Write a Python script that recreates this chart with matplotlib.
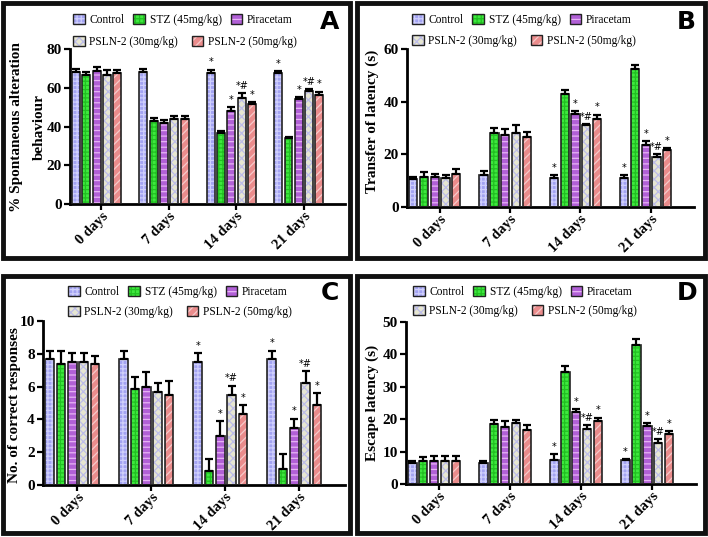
import numpy as np
import matplotlib.pyplot as plt
from matplotlib.patches import Rectangle, Patch
from matplotlib import rcParams
rcParams['font.family'] = ['Liberation Serif', 'DejaVu Serif']
rcParams['hatch.linewidth'] = 0.9

W, H = 708, 537

days = ['0 days', '7 days', '14 days', '21 days']
treatments = ['Control', 'STZ (45mg/kg)', 'Piracetam', 'PSLN-2 (30mg/kg)', 'PSLN-2 (50mg/kg)']

# rows = treatments, columns = days
alt_mean = [[68, 68, 67.5, 67.5],
            [66.5, 43, 36.5, 34],
            [68.5, 42, 48, 54],
            [66.5, 44, 54.5, 58.5],
            [67.5, 44, 51.5, 56.5]]
alt_err = [[1.8, 1.8, 1.8, 1.0],
           [1.8, 1.5, 1.0, 0.5],
           [2.0, 1.5, 2.0, 1.2],
           [2.5, 1.5, 2.8, 0.7],
           [1.8, 1.3, 1.0, 1.5]]

tl_mean = [[10.5, 12, 11, 11],
           [11.5, 28, 43, 52.5],
           [11.5, 27.5, 35.5, 23.5],
           [11, 28, 31, 19],
           [12.5, 26.5, 33.5, 21.5]]
tl_err = [[1.0, 1.5, 1.0, 1.0],
          [1.8, 2.0, 1.3, 1.3],
          [1.2, 2.0, 1.0, 1.5],
          [1.2, 3.0, 0.5, 1.0],
          [2.0, 2.0, 1.5, 0.8]]

cr_mean = [[7.7, 7.7, 7.5, 7.7],
           [7.35, 5.85, 0.85, 1.0],
           [7.5, 6.0, 3.0, 3.5],
           [7.5, 5.7, 5.5, 6.2],
           [7.35, 5.5, 4.35, 4.85]]
cr_err = [[0.5, 0.5, 0.55, 0.5],
          [0.8, 0.75, 0.75, 0.9],
          [0.55, 0.9, 0.9, 0.55],
          [0.55, 0.5, 0.55, 0.75],
          [0.5, 0.85, 0.5, 0.75]]

el_mean = [[6.5, 6.5, 7.5, 7.5],
           [7, 18.5, 34.5, 43],
           [7, 17.5, 22.3, 17.8],
           [7, 18.7, 17, 12.7],
           [7, 16.7, 19.5, 15.3]]
el_err = [[0.5, 0.5, 1.7, 0.2],
          [1.2, 1.2, 2.0, 1.7],
          [1.5, 2.0, 0.7, 1.0],
          [1.5, 1.2, 1.2, 1.2],
          [1.5, 1.5, 1.0, 1.0]]

signif = [['', '', '*', '*'],
          ['', '', '', ''],
          ['', '', '*', '*'],
          ['', '', '*#', '*#'],
          ['', '', '*', '*']]

faces = ['#a3a3f2', '#3ee83e', '#b160d6', '#e6e6d2', '#ea8c8c']
hatchc = ['#cfcffc', '#22c022', '#e8b4f5', '#bdbde8', '#f6caca']
hatches = ['++++', '++++', '---', 'xxxx', '////']


def fx(px):
    return px / W


def fy(py):
    return 1 - py / H


fig = plt.figure(figsize=(W / 100, H / 100), dpi=100)

panels = [
    dict(mean=alt_mean, err=alt_err, ymax=80, step=20, ylabel='% Spontaneous alteration\nbehaviour',
         ax=(70, 345, 49, 204), lab=(28, 127), leg=(73, 20, 42), letter='A', lpos=(330, 22),
         box=(3, 3, 350, 258)),
    dict(mean=tl_mean, err=tl_err, ymax=60, step=20, ylabel='Transfer of latency (s)',
         ax=(407, 694, 49, 207), lab=(372, 121), leg=(412, 20, 41), letter='B', lpos=(686, 22),
         box=(357, 3, 705, 258)),
    dict(mean=cr_mean, err=cr_err, ymax=10, step=2, ylabel='No. of correct responses',
         ax=(43, 345, 321, 485), lab=(15, 405), leg=(68, 292, 312), letter='C', lpos=(330, 293),
         box=(3, 276, 350, 533)),
    dict(mean=el_mean, err=el_err, ymax=50, step=10, ylabel='Escape latency (s)',
         ax=(406, 696, 322, 484), lab=(372, 403), leg=(413, 292, 311), letter='D', lpos=(687, 293),
         box=(357, 276, 705, 533)),
]

x = np.arange(len(days))
bw = 0.118
for p in panels:
    l, r, t, b = p['ax']
    ax = fig.add_axes([fx(l), fy(b), fx(r) - fx(l), fy(t) - fy(b)])
    handles = []
    for j, name in enumerate(treatments):
        xs = x + (j - 2) * 0.153
        m = np.array(p['mean'][j])
        e = np.array(p['err'][j])
        ax.bar(xs, m, bw, color=faces[j], edgecolor=hatchc[j], hatch=hatches[j], linewidth=0, zorder=2)
        ax.bar(xs, m, bw, fill=False, edgecolor='#222222', linewidth=1.2, zorder=3)
        ax.errorbar(xs, m, yerr=[np.zeros(len(m)), e], fmt='none', ecolor='black',
                    elinewidth=1.6, capsize=3, capthick=1.6, zorder=4)
        for k in range(len(m)):
            if signif[j][k]:
                ax.text(xs[k], m[k] + e[k] + p['ymax'] * 0.015, signif[j][k], ha='center', va='bottom',
                        fontsize=7, family='DejaVu Sans')
        h1 = Patch(facecolor=faces[j], edgecolor=hatchc[j], hatch=hatches[j], linewidth=0)
        h2 = Patch(fill=False, edgecolor='#222222', linewidth=1.0)
        handles.append((h1, h2))

    ax.set_xlim(-0.395, 3.685)
    ax.set_ylim(0, p['ymax'])
    ax.set_yticks(np.arange(0, p['ymax'] + 0.1, p['step']))
    ax.set_xticks(x + 0.07)
    ax.set_xticklabels(days, rotation=45, ha='right', rotation_mode='anchor',
                       fontsize=10.5, fontweight='bold')
    for lb in ax.get_yticklabels():
        lb.set_fontweight('bold')
        lb.set_fontsize(11)
    ax.tick_params(width=1.6, length=4, pad=2)
    ax.tick_params(axis='x', pad=0)
    for s in ['top', 'right']:
        ax.spines[s].set_visible(False)
    for s in ['left', 'bottom']:
        ax.spines[s].set_linewidth(2)

    fig.text(fx(p['lab'][0]), fy(p['lab'][1]), p['ylabel'], rotation=90, ha='center', va='center',
             fontsize=11, fontweight='bold', linespacing=2.0)

    lx, r1, r2 = p['leg']
    leg1 = ax.legend(handles[:3], treatments[:3], ncol=3, loc='center left',
                     bbox_to_anchor=(fx(lx), fy(r1)), bbox_transform=fig.transFigure,
                     frameon=False, fontsize=8.3, handlelength=1.0, handleheight=1.0,
                     handletextpad=0.4, columnspacing=0.8, borderpad=0, borderaxespad=0)
    ax.add_artist(leg1)
    ax.legend(handles[3:], treatments[3:], ncol=2, loc='center left',
              bbox_to_anchor=(fx(lx), fy(r2)), bbox_transform=fig.transFigure,
              frameon=False, fontsize=8.3, handlelength=1.0, handleheight=1.0,
              handletextpad=0.4, columnspacing=1.2, borderpad=0, borderaxespad=0)

    fig.text(fx(p['lpos'][0]), fy(p['lpos'][1]), p['letter'], ha='center', va='center',
             fontsize=18, fontweight='bold', family='DejaVu Sans')

    x0, y0, x1, y1 = p['box']
    fig.add_artist(Rectangle((fx(x0), fy(y1)), fx(x1) - fx(x0), fy(y0) - fy(y1),
                             transform=fig.transFigure, fill=False, edgecolor='#111111', linewidth=3.5))

fig.savefig('out.png', dpi=100)
